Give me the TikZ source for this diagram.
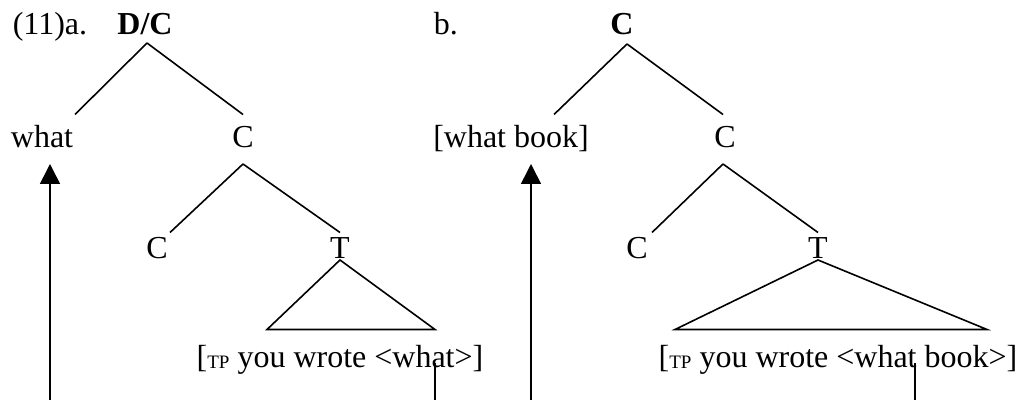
\documentclass[tikz,border=0pt]{standalone}
\usepackage{fontspec}
\setmainfont{Liberation Serif}
\usetikzlibrary{arrows.meta, calc}
\newcommand{\treefont}{\fontsize{16}{19}\selectfont}
\newcommand{\tpbr}{[\raisebox{-0.5pt}{\fontsize{9.5}{10}\selectfont TP}}

\begin{document}
\begin{tikzpicture}[x=0.5pt, y=-0.5pt, line width=0.8pt, font=\treefont,
    lbl/.style={inner sep=0pt, text height=10.85pt, text depth=3.1pt, anchor=base},
    move/.style={-{Triangle[width=10pt, length=10pt]}}]
  \useasboundingbox (0, 0) rectangle (1020, 400);
  % (11a)
  \node[lbl, anchor=base west] (exA) at (12, 35) {(11)a.};
  \node[lbl, font=\treefont\bfseries] (rootA) at (145, 35) {D/C};
  \node[lbl] (whatA) at (42, 148) {what};
  \node[lbl] (cA) at (243, 148) {C};
  \node[lbl] (cheadA) at (157, 258) {C};
  \node[lbl] (tA) at (340, 258) {T};
  \node[lbl] (tpA) at (340, 367) {\tpbr{} you wrote <what>]};
  \draw ($(rootA.south)+(2,1)$) -- ($(whatA.north)+(33,-11)$);
  \draw ($(rootA.south)+(2,1)$) -- ($(cA.north)+(0,-11)$);
  \draw ($(cA.south)+(0,9)$) -- ($(cheadA.north)+(13,-3)$);
  \draw ($(cA.south)+(0,9)$) -- ($(tA.north)+(0,-3)$);
  \draw ($(tA.south)+(0,-5)$) -- ($(tpA.north)+(-73,-15)$) -- ($(tpA.north)+(95,-15)$) -- cycle;
  \coordinate (footA) at (50, 400);
  \coordinate (traceA) at (435, 400);
  \draw[move] (footA) -- ($(whatA.south)+(8,9)$);
  \draw ($(tpA.base)+(95,-4)$) -- (traceA);
  % (11b)
  \node[lbl, anchor=base west] (exB) at (433, 35) {b.};
  \node[lbl, font=\treefont\bfseries] (rootB) at (622, 35) {C};
  \node[lbl] (whatB) at (511, 148) {[what book]};
  \node[lbl] (cB) at (725, 148) {C};
  \node[lbl] (cheadB) at (637, 258) {C};
  \node[lbl] (tB) at (818, 258) {T};
  \node[lbl] (tpB) at (838, 367) {\tpbr{} you wrote <what book>]};
  \draw ($(rootB.south)+(5,2)$) -- ($(whatB.north)+(43,-11)$);
  \draw ($(rootB.south)+(5,2)$) -- ($(cB.north)+(-2,-11)$);
  \draw ($(cB.south)+(-2,9)$) -- ($(cheadB.north)+(15,-3)$);
  \draw ($(cB.south)+(-2,9)$) -- ($(tB.north)+(0,-3)$);
  \draw ($(tB.south)+(0,-5)$) -- ($(tpB.north)+(-163,-15)$) -- ($(tpB.north)+(149,-15)$) -- cycle;
  \coordinate (footB) at (531, 400);
  \coordinate (traceB) at (915, 400);
  \draw[move] (footB) -- ($(whatB.south)+(20,9)$);
  \draw ($(tpB.base)+(77,-4)$) -- (traceB);
\end{tikzpicture}
\end{document}
